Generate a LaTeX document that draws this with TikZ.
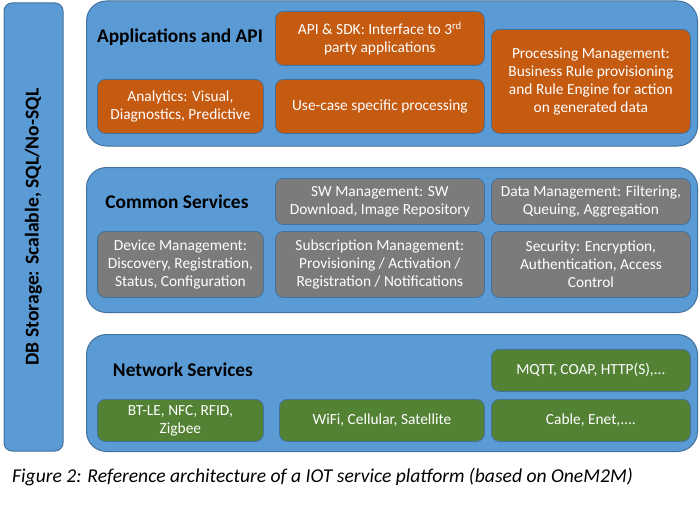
\documentclass[tikz,border=0pt]{standalone}
\usepackage{fontspec}
\setmainfont{Carlito}
\usetikzlibrary{positioning}
\definecolor{LayerFill}{HTML}{5B9BD5}
\definecolor{LayerLine}{HTML}{41719C}
\definecolor{AppFill}{HTML}{C55A11}
\definecolor{SvcFill}{HTML}{7B7B7B}
\definecolor{NetFill}{HTML}{548235}

\begin{document}
\begin{tikzpicture}[x=1pt,y=-1pt]
    \tikzset{layer/.style={rounded corners=20pt,draw=LayerLine,fill=LayerFill,line width=1pt,
      anchor=north west,inner sep=0pt},
      blk/.style={rounded corners=8pt,draw=LayerLine,line width=0.8pt,anchor=north west,
      inner sep=0pt,align=center,text=white,font=\fontsize{15.4}{18}\selectfont},
      app/.style={blk,fill=AppFill},
      svc/.style={blk,fill=SvcFill},
      net/.style={blk,fill=NetFill},
      ttl/.style={font=\bfseries\fontsize{19.4}{22}\selectfont}}
    \useasboundingbox (0,0) rectangle (700,516);
    % storage bar on the left
    \node[rounded corners=8pt,draw=LayerLine,fill=LayerFill,line width=1pt,rotate=90,
      minimum width=448pt,minimum height=59pt,font=\bfseries\fontsize{19.6}{22}\selectfont]
      (db) at (33.5,227) {DB Storage: Scalable, SQL/No-SQL};
    % layers
    \node[layer,minimum width=611pt,minimum height=145pt] (apps) at (86,0.5) {};
    \node[layer,minimum width=611pt,minimum height=145pt] (common) at (86,167) {};
    \node[layer,minimum width=611pt,minimum height=117pt] (network) at (86,334) {};
    \node[ttl] (appsT) at (180,37) {Applications and API};
    \node[ttl] (commonT) at (177,202) {Common Services};
    \node[ttl] (networkT) at (183,370) {Network Services};
    % applications and API
    \node[app,minimum width=209pt,minimum height=54pt] (sdk) at (275,11)
      {API \& SDK: Interface to 3\textsuperscript{rd}\\party applications};
    \node[app,minimum width=166pt,minimum height=54pt] (analytics) at (97,79)
      {Analytics: Visual,\\Diagnostics, Predictive};
    \node[app,minimum width=209pt,minimum height=54pt] (usecase) at (275,79)
      {Use-case specific processing};
    \node[app,minimum width=199pt,minimum height=104pt] (proc) at (491,29)
      {Processing Management:\\Business Rule provisioning\\and Rule Engine for action\\on generated data};
    % common services
    \node[svc,minimum width=209pt,minimum height=46pt] (swm) at (275,178)
      {SW Management: SW\\Download, Image Repository};
    \node[svc,minimum width=199pt,minimum height=46pt] (datam) at (491,178)
      {Data Management: Filtering,\\Queuing, Aggregation};
    \node[svc,minimum width=166pt,minimum height=66pt] (devm) at (97,231)
      {Device Management:\\Discovery, Registration,\\Status, Configuration};
    \node[svc,minimum width=209pt,minimum height=66pt] (subm) at (275,231)
      {Subscription Management:\\Provisioning / Activation /\\Registration / Notifications};
    \node[svc,minimum width=199pt,minimum height=66pt] (sec) at (491,231)
      {Security: Encryption,\\Authentication, Access\\Control};
    % network services
    \node[net,minimum width=199pt,minimum height=42pt] (proto) at (491,349)
      {MQTT, COAP, HTTP(S),...};
    \node[net,minimum width=166pt,minimum height=42pt] (short) at (97,399)
      {BT-LE, NFC, RFID,\\Zigbee};
    \node[net,minimum width=205pt,minimum height=42pt] (wireless) at (279,399)
      {WiFi, Cellular, Satellite};
    \node[net,minimum width=199pt,minimum height=42pt] (wired) at (491,399)
      {Cable, Enet,....};
    % caption
    \node[anchor=west,inner sep=0pt,font=\itshape\fontsize{19.6}{22}\selectfont] (cap) at (12,477)
      {Figure 2: Reference architecture of a IOT service platform (based on OneM2M)};
\end{tikzpicture}
\end{document}
